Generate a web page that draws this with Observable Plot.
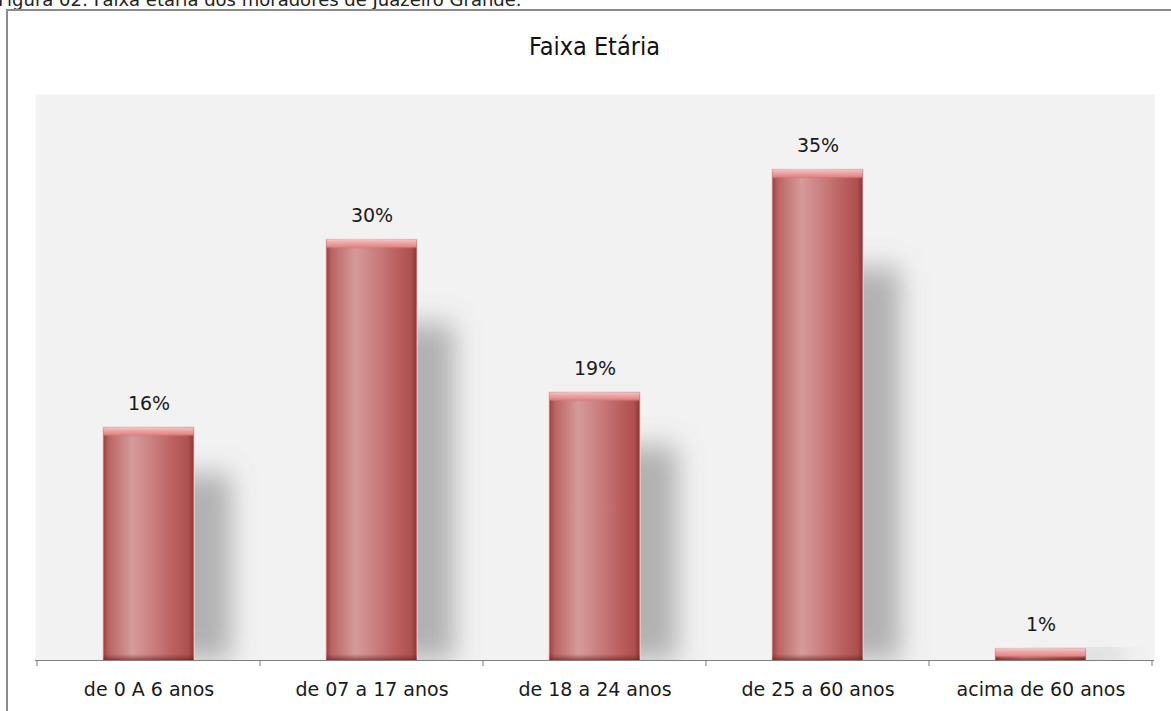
<!DOCTYPE html>
<html>
<head>
<meta charset="utf-8">
<script src="https://cdn.jsdelivr.net/npm/d3@7"></script>
<script src="https://cdn.jsdelivr.net/npm/@observablehq/plot@0.6"></script>
<style>
  html, body { margin: 0; padding: 0; background: #fff; }
  body { width: 1171px; height: 711px; overflow: hidden; position: relative; }
  #cap { position: absolute; left: -2px; top: -10px; font: 18px "DejaVu Sans", sans-serif; color: #222; white-space: nowrap; line-height: 20px; }
  #frame { position: absolute; left: 6px; top: 9px; width: 1250px; height: 800px; border-top: 2px solid #8c8c8c; border-left: 2px solid #8c8c8c; }
  #title { position: absolute; left: 0; width: 1189px; top: 32px; text-align: center; font: 25px "DejaVu Sans Condensed", "DejaVu Sans", sans-serif; color: #111; }
  #chart { position: absolute; left: 0; top: 80px; }
</style>
</head>
<body>
<div id="cap">Figura 02: Faixa etária dos moradores de Juazeiro Grande.</div>
<div id="frame"></div>
<div id="title">Faixa Etária</div>
<div id="chart"></div>
<script>
// ---- data ----
const categories = ["de 0 A 6 anos", "de 07 a 17 anos", "de 18 a 24 anos", "de 25 a 60 anos", "acima de 60 anos"];
const values = [16.6, 30, 19.1, 35, 0.8];
const valueLabels = ["16%", "30%", "19%", "35%", "1%"];

const data = categories.map((c, i) => ({cat: c, value: values[i], label: valueLabels[i]}));

const inset = 66.4;
const shadowColor = "#707070";

function boundaryTicks(index, scales, channels, dims) {
  const g = d3.create("svg:g").attr("stroke", "#7a7a7a").attr("stroke-width", 1);
  const x = scales.x;
  const bw = x.bandwidth ? x.bandwidth() : 0;
  const y0 = dims.height - dims.marginBottom;
  const edges = categories.map(c => x(c));
  edges.push(edges[edges.length - 1] + bw);
  for (const e of edges) {
    g.append("line").attr("x1", e).attr("x2", e).attr("y1", y0).attr("y2", y0 + 6);
  }
  return g.node();
}

const chart = Plot.plot({
  width: 1171,
  height: 631,
  marginLeft: 35,
  marginRight: 17,
  marginTop: 14,
  marginBottom: 51,
  style: {fontFamily: "'DejaVu Sans', sans-serif", fontSize: "19px", color: "#1a1a1a", background: "transparent"},
  x: {domain: categories, padding: 0, label: null, tickSize: 0, tickPadding: 22},
  y: {domain: [0, 40.4], axis: null},
  marks: [
    Plot.frame({fill: "#f2f2f2", stroke: "none"}),
    Plot.barY(data, {x: "cat", y: d => d.value * 0.8, insetLeft: inset, insetRight: inset, dx: 38, fill: shadowColor, fillOpacity: 0.5, clip: true}),
    Plot.barY(data, {x: "cat", y: "value", insetLeft: inset - 1, insetRight: inset - 1, insetTop: -1, fill: "#f3d0d0"}),
    Plot.barY(data, {x: "cat", y: "value", insetLeft: inset, insetRight: inset, fill: "url(#barGrad)"}),
    Plot.barY(data, {x: "cat", y1: 0, y2: 0, insetLeft: inset, insetRight: inset, insetTop: -6, fill: "url(#botGrad)"}),
    Plot.barY(data, {x: "cat", y1: "value", y2: "value", insetLeft: inset, insetRight: inset, insetBottom: -9, fill: "url(#topGrad)"}),
    Plot.text(data, {x: "cat", y: "value", text: "label", dy: -24, fontSize: 19, fill: "#1a1a1a"}),
    Plot.ruleY([0], {stroke: "#808080", strokeWidth: 1}),
    boundaryTicks
  ]
});

const svg = d3.select(chart);
const defs = svg.insert("defs", ":first-child");
function grad(id, vertical, stops) {
  const g = defs.append("linearGradient").attr("id", id)
    .attr("x1", 0).attr("y1", 0).attr("x2", vertical ? 0 : 1).attr("y2", vertical ? 1 : 0);
  for (const [o, c, op] of stops) g.append("stop").attr("offset", o).attr("stop-color", c).attr("stop-opacity", op ?? 1);
}
grad("barGrad", false, [
  ["0%", "#9c4040"], ["6%", "#bb6464"], ["32%", "#d59a9a"], ["50%", "#cc8585"],
  ["78%", "#bc5f5f"], ["94%", "#ae5050"], ["100%", "#8c3636"]
]);
grad("botGrad", true, [
  ["0%", "#6a2020", 0], ["60%", "#6a2020", 0.35], ["100%", "#5a1a1a", 0.6]
]);
grad("topGrad", true, [
  ["0%", "#f6c4c4"], ["35%", "#f1a2a2"], ["75%", "#e08a8a"], ["100%", "#c97272", 0.2]
]);
defs.append("filter").attr("id", "blurShadow")
  .attr("x", "-80%").attr("y", "-40%").attr("width", "260%").attr("height", "180%")
  .append("feGaussianBlur").attr("stdDeviation", "13 14");

svg.selectAll("g")
  .filter(function() { return this.getAttribute("fill") === shadowColor; })
  .selectAll("rect")
  .attr("filter", "url(#blurShadow)");
document.getElementById("chart").appendChild(chart);
</script>
</body>
</html>
